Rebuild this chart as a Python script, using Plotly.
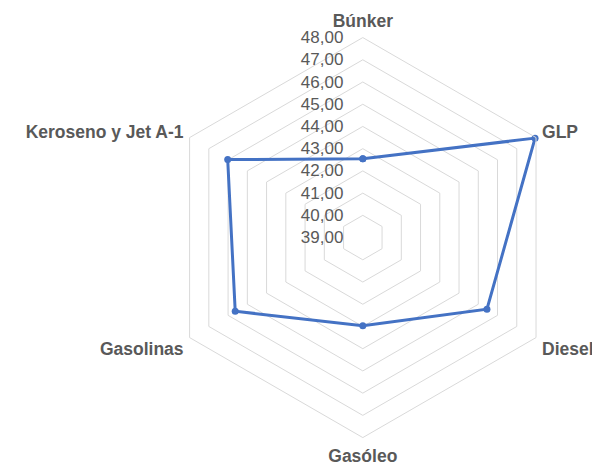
import plotly.graph_objects as go

categories = ["Búnker", "GLP", "Diesel", "Gasóleo", "Gasolinas", "Keroseno y Jet A-1"]
values = [42.55, 47.95, 45.45, 42.97, 45.63, 46.02]
radial_ticks = [39, 40, 41, 42, 43, 44, 45, 46, 47, 48]

fig = go.Figure()
fig.add_trace(go.Scatterpolar(
    r=values + values[:1],
    theta=categories + categories[:1],
    mode="lines+markers",
    line=dict(color="#4472C4", width=3),
    marker=dict(color="#4472C4", size=7),
    showlegend=False,
))

fig.update_layout(
    width=600, height=469,
    margin=dict(l=0, r=0, t=0, b=0),
    paper_bgcolor="white",
    plot_bgcolor="white",
    separators=",.",
    font=dict(family="Liberation Sans, Arial, sans-serif", color="#595959"),
    polar=dict(
        domain=dict(x=[0.258, 0.9247], y=[0.084, 0.937]),
        bgcolor="white",
        gridshape="linear",
        angularaxis=dict(
            rotation=90,
            direction="clockwise",
            showgrid=False,
            showline=True,
            linecolor="#D9D9D9",
            linewidth=1,
            ticks="outside",
            ticklen=3,
            tickcolor="rgba(0,0,0,0)",
            tickfont=dict(size=17.5, color="#595959", family="Liberation Sans, Arial, sans-serif", weight="bold"),
        ),
        radialaxis=dict(
            range=[39, 48],
            tickvals=radial_ticks,
            tickformat=".2f",
            angle=90,
            tickangle=90,
            side="counterclockwise",
            showline=False,
            ticks="outside",
            ticklen=13,
            tickcolor="rgba(0,0,0,0)",
            gridcolor="#D9D9D9",
            gridwidth=1,
            tickfont=dict(size=17, color="#595959"),
        ),
    ),
)

fig.write_html("out.html")
